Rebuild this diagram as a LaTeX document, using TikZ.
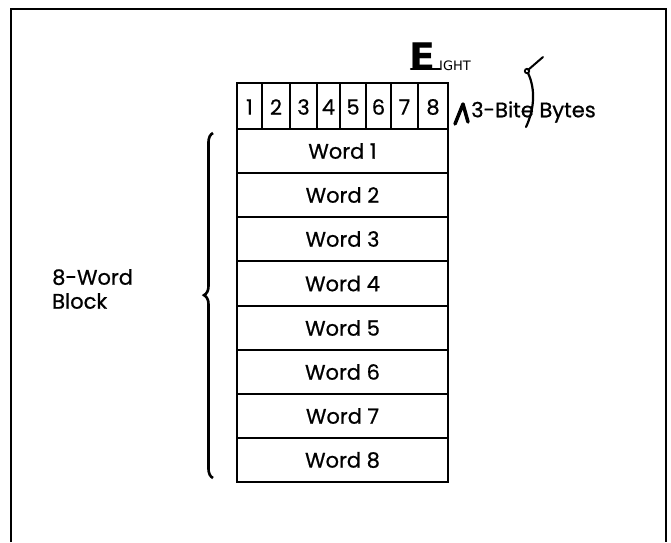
\documentclass[tikz,border=0pt]{standalone}
\usepackage{fontspec}
\setmainfont{Poppins}[FakeBold=0.7]
\newfontfamily\handfont{DejaVu Sans}
\usetikzlibrary{decorations.pathreplacing}
\begin{document}
\begin{tikzpicture}[x=1pt,y=-1pt,
  lbl/.style={inner sep=0pt,font=\fontsize{21}{24}\selectfont},
  frameline/.style={line width=2.2pt},
  outerline/.style={line width=2.8pt},
  rowline/.style={line width=1.3pt},
  handline/.style={line width=2pt,line cap=round,line join=round}]
\useasboundingbox (0,0) rectangle (671,542);
% frame (open at bottom)
\draw[frameline] (11,542) -- (11,9) -- (666,9) -- (666,542);
% byte row
\foreach \x in {262,290,317,340,366,391,418}
  \draw[rowline] (\x,83) -- (\x,129);
\draw[line width=2.2pt] (237,129) -- (448,129);
\foreach \y in {173,217,261,306,350,394,438}
  \draw[rowline] (237,\y) -- (448,\y);
\draw[outerline] (237,83) rectangle (448,482);
% byte labels
\node[lbl] (b1) at (249.5,107) {1};
\node[lbl] (b2) at (276,107) {2};
\node[lbl] (b3) at (303.5,107) {3};
\node[lbl] (b4) at (328.5,107) {4};
\node[lbl] (b5) at (353,107) {5};
\node[lbl] (b6) at (378.5,107) {6};
\node[lbl] (b7) at (404.5,107) {7};
\node[lbl] (b8) at (433,107) {8};
% words
\foreach \i/\y in {1/151,2/195,3/239,4/283.5,5/328,6/372,7/416,8/460}
  \node[lbl] (w\i) at (342.5,\y) {Word \i};
% brace
\draw[line width=2.6pt,decorate,decoration={brace,amplitude=9pt,aspect=0.53}]
  (213,478) -- (213,133);
\node[lbl,align=left,anchor=west] (blk) at (52,289) {8-Word\\Block};
% bytes label
\node[lbl,anchor=west] (bytes) at (471,112) {3-Bite Bytes};
% handwritten correction
\node[inner sep=0pt,anchor=south west,font=\handfont\bfseries\fontsize{38}{38}\selectfont] (hE) at (409,71) {E};
\node[inner sep=0pt,anchor=south west,font=\handfont\fontsize{13}{13}\selectfont] (hI) at (439,71) {IGHT};
\draw[handline,line width=2.4pt] (411,69) -- (440,69);
% caret
\draw[handline,line width=3.5pt] (455,124) -- (463,104) -- (468,122);
% strike mark
\draw[handline,line width=2pt] (543,57) -- (528,70);
\draw[line width=1.8pt] (527,71) circle (2.2);
\draw[handline,line width=2.2pt] (528,73) .. controls (536,90) and (534,110) .. (526,127);
\end{tikzpicture}
\end{document}
